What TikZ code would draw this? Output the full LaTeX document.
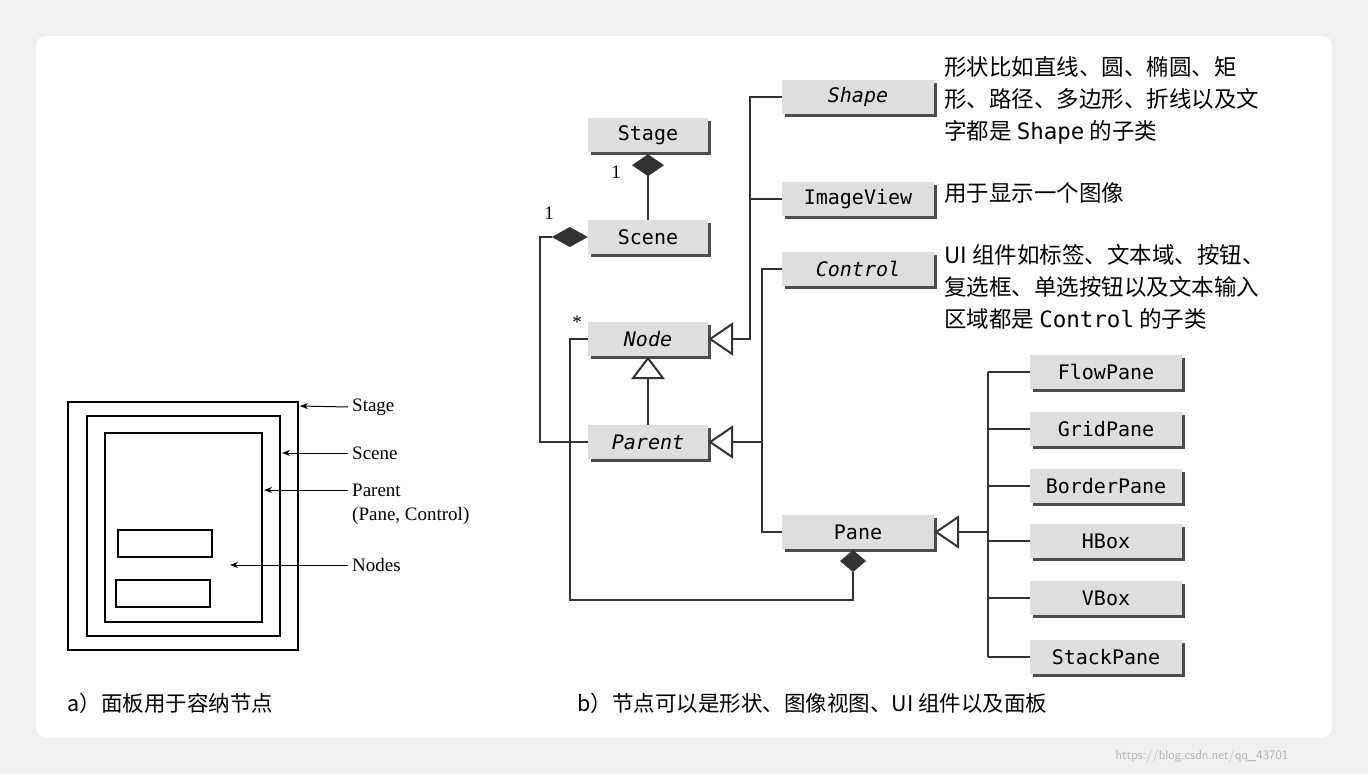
\documentclass[tikz,border=0pt]{standalone}
\usepackage{fontspec}
\setmainfont{Liberation Serif}
\newfontfamily\cjk{Noto Sans CJK SC}
\newfontfamily\boxfont{DejaVu Sans Mono}
\usetikzlibrary{shadows,arrows.meta}
\begin{document}
\begin{tikzpicture}[x=1pt,y=-1pt,
  uml/.style={fill=black!13, inner sep=0pt, minimum height=34pt, font=\boxfont\fontsize{20}{21}\selectfont,
     general shadow={fill=black!70, shadow xshift=2.5pt, shadow yshift=-2.5pt}},
  wa/.style={uml, minimum width=120pt},
  wb/.style={uml, minimum width=152pt},
  ln/.style={line width=2pt, black!80},
  tri/.style={draw=black!80, line width=2pt, fill=white},
  dia/.style={fill=black!80},
  desc/.style={font=\cjk\fontsize{22.5}{32}\selectfont, anchor=north west, align=left, inner sep=0pt},
  lab/.style={font=\fontsize{19}{22}\selectfont, anchor=west, inner sep=0pt},
  thin/.style={line width=1.2pt},
  arr/.style={line width=1pt, -{Stealth[length=8pt,width=6pt]}}]
\useasboundingbox (0,0) rectangle (1368,774);
\fill[black!6] (0,0) rectangle (1368,774);
\fill[white, rounded corners=10pt] (36,36) rectangle (1332,738);

% left panel
\draw[thin] (68,402) rectangle (298,650);
\draw[thin] (87,416) rectangle (280,636);
\draw[thin] (105,433) rectangle (262,622);
\draw[thin] (118,530) rectangle (212,557);
\draw[thin] (116,580) rectangle (210,607);
\node[lab] (lstage) at (352,407) {Stage};
\node[lab] (lscene) at (352,453) {Scene};
\node[lab] (lparent) at (352,490) {Parent};
\node[lab] (lpc) at (352,516) {(Pane, Control)};
\node[lab] (lnodes) at (352,565) {Nodes};
\coordinate (a1) at (300,406); \coordinate (a2) at (282,453);
\coordinate (a3) at (264,490); \coordinate (a4) at (230,565);
\draw[arr] (lstage.west) ++(-4,0) -- (a1);
\draw[arr] (lscene.west) ++(-4,0) -- (a2);
\draw[arr] (lparent.west) ++(-4,0) -- (a3);
\draw[arr] (lnodes.west) ++(-4,0) -- (a4);
\node[font=\cjk\fontsize{21.5}{24}\selectfont, anchor=west] (capa) at (64,703) {a）面板用于容纳节点};
\node[font=\cjk\fontsize{21.5}{24}\selectfont, anchor=west] (capb) at (574,703) {b）节点可以是形状、图像视图、UI 组件以及面板};

% UML boxes
\node[wa] (stage) at (648,135) {Stage};
\node[wa] (scene) at (648,237) {Scene};
\node[wa] (node) at (648,339) {\itshape Node};
\node[wa] (parent) at (648,442) {\itshape Parent};
\node[wb] (shape) at (858,97) {\itshape Shape};
\node[wb] (image) at (858,199) {ImageView};
\node[wb] (control) at (858,269) {\itshape Control};
\node[wb] (pane) at (858,532) {Pane};
\foreach \n/\t/\y in {flow/FlowPane/372, grid/GridPane/429, border/BorderPane/486, hbox/HBox/541, vbox/VBox/598, stack/StackPane/657}
  \node[wb] (\n) at (1106,\y) {\t};

% descriptions
\node[desc] (dshape) at (944,56) {形状比如直线、圆、椭圆、矩\\形、路径、多边形、折线以及文\\字都是 {\boxfont Shape} 的子类};
\node[desc] (dimage) at (944,182) {用于显示一个图像};
\node[desc] (dcontrol) at (944,244) {UI 组件如标签、文本域、按钮、\\复选框、单选按钮以及文本输入\\区域都是 {\boxfont Control} 的子类};

% Stage - Scene composition
\draw[ln] (scene.north) -- ++(0,-45);
\fill[dia] (stage.south) ++(0,2) -- ++(16,11) -- ++(-16,11) -- ++(-16,-11) -- cycle;
\node[font=\fontsize{19}{20}\selectfont] (one1) at (616,172) {1};
% Scene - Parent composition
\draw[ln] (scene.west) ++(-36,0) -| (540,442) -- (parent.west);
\fill[dia] (scene.west) -- ++(-18,-10) -- ++(-18,10) -- ++(18,10) -- cycle;
\node[font=\fontsize{19}{20}\selectfont] (one2) at (549,213) {1};
% Node - Pane composition
\draw[ln] (node.west) -- (570,339) -- (570,600) -| (853,572);
\fill[dia] (853,550) -- ++(13,11) -- ++(-13,11) -- ++(-13,-11) -- cycle;
\node[font=\fontsize{19}{20}\selectfont] (star) at (577,322) {*};

% Node <- Parent
\draw[ln] (parent.north) -- (648,378);
\draw[tri] (node.south) ++(0,2) -- ++(15,20) -- ++(-30,0) -- cycle;
% Node <- Shape, ImageView
\draw[ln] (shape.west) -| (750,339) -- (732,339);
\draw[ln] (image.west) -- (750,199);
\draw[tri] (node.east) ++(2,0) -- ++(22,-15) -- ++(0,30) -- cycle;
% Parent <- Control, Pane
\draw[ln] (control.west) -| (762,532) -- (pane.west);
\draw[ln] (762,442) -- (732,442);
\draw[tri] (parent.east) ++(2,0) -- ++(22,-15) -- ++(0,30) -- cycle;
% Pane <- subclasses
\draw[ln] (988,372) -- (988,657);
\draw[ln] (988,532) -- (959,532);
\foreach \n in {flow,grid,border,hbox,vbox,stack} \draw[ln] (988,0 |- \n.west) -- (\n.west);
\draw[tri] (pane.east) ++(2,0) -- ++(22,-15) -- ++(0,30) -- cycle;

\node[font=\fontsize{13}{14}\selectfont\sffamily, text=black!30, anchor=west] (wm) at (1112,756) {https://blog.csdn.net/qq\_43701};
\end{tikzpicture}
\end{document}
